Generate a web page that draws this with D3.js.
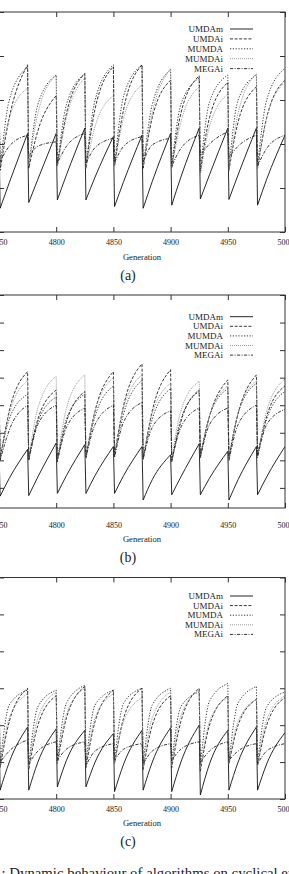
<!DOCTYPE html>
<html>
<head>
<meta charset="utf-8">
<script src="https://cdn.jsdelivr.net/npm/d3@7"></script>
<style>
  html, body { margin: 0; padding: 0; background: #fff; }
  svg { display: block; }
  text { font-family: "Liberation Serif", "DejaVu Serif", serif; fill: #222; }
</style>
</head>
<body>
<svg id="chart" width="289" height="874"></svg>
<script>
// generations at which values were read: 4750, then per cycle low / mid / peak
const gens = [4750,
  4751, 4759, 4775, 4776, 4784, 4800, 4801, 4809, 4825, 4826, 4834, 4850,
  4851, 4859, 4875, 4876, 4884, 4900, 4901, 4909, 4925, 4926, 4934, 4950,
  4951, 4959, 4975, 4976, 4984, 5000]
const names = ["UMDAm", "UMDAi", "MUMDA", "MUMDAi", "MEGAi"]
const xTicks = [4750, 4800, 4850, 4900, 4950, 5000]

// panel (a)
const aUMDAm = [2.2, 0.54,1.12,2.24, 0.67,1.2,2.24, 0.73,1.3,2.36, 0.73,1.25,2.17, 0.58,1.15,2.2, 0.54,1.15,2.24, 0.61,1.25,2.36, 0.75,1.3,2.36, 0.74,1.3,2.36, 0.61,1.2,2.2]
const aUMDAi = [3.0, 1.4,2.6,3.8, 1.45,2.3,3.1, 1.5,2.7,3.6, 1.45,2.8,3.76, 1.5,2.8,3.8, 1.45,2.6,3.45, 1.45,2.7,3.55, 1.35,2.6,3.4, 1.4,2.5,3.3, 1.45,2.6,3.45]
const aMUMDA = [3.2, 1.45,3.0,3.75, 1.45,2.9,3.57, 1.5,2.9,3.6, 1.45,3.0,3.8, 1.5,3.1,3.8, 1.45,2.9,3.7, 1.5,2.9,3.5, 1.4,2.95,3.57, 1.45,3.0,3.57, 1.5,3.0,3.72]
const aMUMDAi = [2.8, 1.5,2.6,3.27, 1.5,2.7,3.57, 1.5,2.6,3.5, 1.45,2.4,3.1, 1.5,2.6,3.35, 1.5,2.7,3.7, 1.45,2.5,3.3, 1.3,2.4,3.13, 1.4,2.7,3.6, 1.45,2.6,3.4]
const aMEGAi = [2.1, 1.6,1.95,2.2, 1.72,1.95,2.05, 1.56,1.95,2.24, 1.56,1.92,2.13, 1.58,1.95,2.17, 1.6,1.98,2.13, 1.5,1.9,2.2, 1.75,2.0,2.28, 1.7,1.95,2.2, 1.5,1.9,2.2]

// panel (b)
const bUMDAm = [2.4, 0.7,1.35,2.4, 0.72,1.4,2.63, 0.8,1.45,2.57, 0.8,1.45,2.5, 0.8,1.45,2.5, 0.56,1.3,2.2, 0.75,1.4,2.6, 0.75,1.35,2.33, 0.56,1.3,2.5, 0.75,1.4,2.5]
const bUMDAi = [4.8, 2.05,3.8,5.22, 2.1,3.5,4.55, 2.0,3.4,4.5, 2.15,3.8,5.22, 2.2,4.0,5.5, 2.05,3.8,5.29, 1.95,3.4,4.56, 2.15,3.6,4.92, 2.1,3.7,5.1, 2.2,3.6,4.7]
const bMUMDA = [4.3, 2.1,3.5,4.4, 2.0,3.4,4.3, 2.05,3.5,4.4, 2.1,3.6,4.7, 2.2,3.7,4.9, 2.1,3.5,4.6, 2.0,3.5,4.5, 2.15,3.6,4.6, 2.1,3.7,4.8, 2.2,3.5,4.5]
const bMUMDAi = [4.6, 2.0,3.7,4.9, 2.1,3.9,5.05, 2.0,3.9,5.1, 2.05,3.8,5.0, 2.15,3.9,5.1, 2.0,3.7,4.8, 2.05,3.8,4.87, 2.1,3.6,4.7, 2.0,3.7,4.9, 2.1,3.8,4.95]
const bMEGAi = [3.8, 2.0,3.1,4.0, 2.0,3.3,4.0, 1.95,3.2,3.9, 2.1,3.3,4.0, 2.1,3.4,4.1, 2.05,3.2,3.8, 2.0,3.2,3.9, 2.1,3.3,3.9, 2.0,3.3,4.0, 2.1,3.3,3.85]

// panel (c)
const cUMDAm = [1.9, 0.24,1.0,1.95, 0.24,1.0,1.9, 0.33,1.05,1.86, 0.33,1.0,1.77, 0.2,0.95,1.86, 0.24,1.0,1.93, 0.2,1.0,2.0, 0.11,0.95,1.86, 0.24,1.0,1.95, 0.24,0.95,1.8]
const cUMDAi = [2.8, 0.85,2.1,3.0, 0.8,2.0,2.8, 0.95,2.2,3.05, 0.85,2.1,2.95, 0.95,2.2,3.0, 0.8,2.0,2.8, 0.85,2.1,3.0, 0.75,2.0,2.8, 0.95,2.0,2.7, 0.9,2.0,2.75]
const cMUMDA = [2.9, 0.95,2.55,2.95, 0.9,2.5,2.95, 1.0,2.6,3.08, 0.95,2.55,2.95, 1.05,2.6,3.0, 0.95,2.55,3.0, 1.0,2.5,2.9, 0.9,2.65,3.13, 1.0,2.6,3.05, 0.95,2.5,2.9]
const cMUMDAi = [2.7, 0.9,2.2,2.85, 0.85,2.2,2.9, 0.95,2.3,3.0, 0.9,2.2,2.85, 0.95,2.1,2.75, 0.85,2.2,2.9, 0.9,2.25,2.95, 0.8,2.1,2.75, 0.95,2.1,2.7, 0.9,2.15,2.8]
const cMEGAi = [1.5, 1.0,1.3,1.6, 0.95,1.3,1.55, 1.05,1.35,1.55, 0.9,1.3,1.5, 1.05,1.35,1.5, 0.95,1.3,1.5, 1.05,1.35,1.55, 1.0,1.3,1.55, 1.05,1.3,1.5, 0.95,1.3,1.5]

// line styles, in legend order
const styles = [
    { color: "#111", dash: null },
    { color: "#222", dash: "3,1.6" },
    { color: "#222", dash: "1.2,1.6" },
    { color: "#8c8c8c", dash: "1,1" },
    { color: "#222", dash: "3.2,1.4,1,1.4" }
]

const panels = [
    { tag: "(a)", top: 12, bottom: 232, domain: [0, 5], yTicks: [0, 1, 2, 3, 4, 5],
      legendY: 29, legendStep: 9.9, pad: 7, genY: 260, tagY: 280,
      series: [aUMDAm, aUMDAi, aMUMDA, aMUMDAi, aMEGAi] },
    { tag: "(b)", top: 295, bottom: 508, domain: [0.27, 8], yTicks: [1, 2, 3, 4, 5, 6, 7, 8],
      legendY: 316.7, legendStep: 9.6, pad: 14.5, genY: 542, tagY: 562,
      series: [bUMDAm, bUMDAi, bMUMDA, bMUMDAi, bMEGAi] },
    { tag: "(c)", top: 577.5, bottom: 799, domain: [0, 6], yTicks: [0, 1, 2, 3, 4, 5, 6],
      legendY: 596, legendStep: 9.6, pad: 7, genY: 826, tagY: 846,
      series: [cUMDAm, cUMDAi, cMUMDA, cMUMDAi, cMEGAi] }
]

const svg = d3.select("#chart")
const x = d3.scaleLinear().domain([4750, 5000]).range([-1, 285])

panels.forEach((p, pi) => {
    const y = d3.scaleLinear().domain(p.domain).range([p.bottom, p.top])
    const g = svg.append("g")

    g.append("clipPath").attr("id", "clip" + pi)
        .append("rect")
        .attr("x", x.range()[0]).attr("y", p.top)
        .attr("width", x.range()[1] - x.range()[0]).attr("height", p.bottom - p.top)

    // each cycle rises smoothly; the reset between cycles is a straight drop
    const rise = d3.line()
        .x(d => x(d[0]))
        .y(d => y(d[1]))
        .curve(d3.curveMonotoneX)
    const pathFor = values => {
        const pts = gens.map((gen, i) => [gen, values[i]])
        let d = "M" + x(pts[0][0]) + "," + y(pts[0][1])
        for (let i = 1; i < pts.length; i += 3)
            d += rise(pts.slice(i, i + 3)).replace(/^M/, "L")
        return d
    }

    const plot = g.append("g").attr("clip-path", "url(#clip" + pi + ")")
    p.series.forEach((values, si) => {
        plot.append("path")
            .attr("d", pathFor(values))
            .attr("fill", "none")
            .attr("stroke", styles[si].color)
            .attr("stroke-width", 0.9)
            .attr("stroke-dasharray", styles[si].dash)
    })

    // ticks on all four sides, pointing inward
    const styleAxis = sel => {
        sel.select(".domain").remove()
        sel.selectAll("line").attr("stroke", "#333")
        sel.selectAll("text").attr("font-family", "Liberation Serif").attr("font-size", 8).attr("fill", "#222")
    }
    g.append("g").attr("transform", `translate(0,${p.bottom})`)
        .call(d3.axisBottom(x).tickValues(xTicks).tickFormat(d3.format("d"))
            .tickSizeInner(-5).tickSizeOuter(0).tickPadding(p.pad))
        .call(styleAxis)
    g.append("g").attr("transform", `translate(0,${p.top})`)
        .call(d3.axisTop(x).tickValues(xTicks).tickSizeInner(-5).tickSizeOuter(0).tickFormat(""))
        .call(styleAxis)
    // y labels sit outside the cropped figure, so only the ticks are drawn
    g.append("g").attr("transform", `translate(${x.range()[0]},0)`)
        .call(d3.axisLeft(y).tickValues(p.yTicks).tickSizeInner(-5).tickSizeOuter(0).tickFormat(""))
        .call(styleAxis)
    g.append("g").attr("transform", `translate(${x.range()[1]},0)`)
        .call(d3.axisRight(y).tickValues(p.yTicks).tickSizeInner(-5).tickSizeOuter(0).tickFormat(""))
        .call(styleAxis)

    g.append("rect")
        .attr("x", x.range()[0]).attr("y", p.top)
        .attr("width", x.range()[1] - x.range()[0]).attr("height", p.bottom - p.top)
        .attr("fill", "none").attr("stroke", "#333").attr("stroke-width", 1)

    // key
    names.forEach((name, si) => {
        const ly = p.legendY + si * p.legendStep
        g.append("text")
            .attr("x", 223).attr("y", ly + 3)
            .attr("text-anchor", "end")
            .attr("font-size", 9)
            .text(name)
        g.append("line")
            .attr("x1", 230).attr("x2", 253).attr("y1", ly).attr("y2", ly)
            .attr("stroke", styles[si].color)
            .attr("stroke-width", 0.9)
            .attr("stroke-dasharray", styles[si].dash)
    })

    g.append("text")
        .attr("x", 142).attr("y", p.genY)
        .attr("text-anchor", "middle")
        .attr("font-size", 8.6)
        .text("Generation")
    g.append("text")
        .attr("x", 128).attr("y", p.tagY)
        .attr("text-anchor", "middle")
        .attr("font-size", 14)
        .text(p.tag)
})

svg.append("text")
    .attr("x", 1.5).attr("y", 878)
    .attr("font-size", 14.8)
    .text(": Dynamic behaviour of algorithms on cyclical environments")
</script>
</body>
</html>
